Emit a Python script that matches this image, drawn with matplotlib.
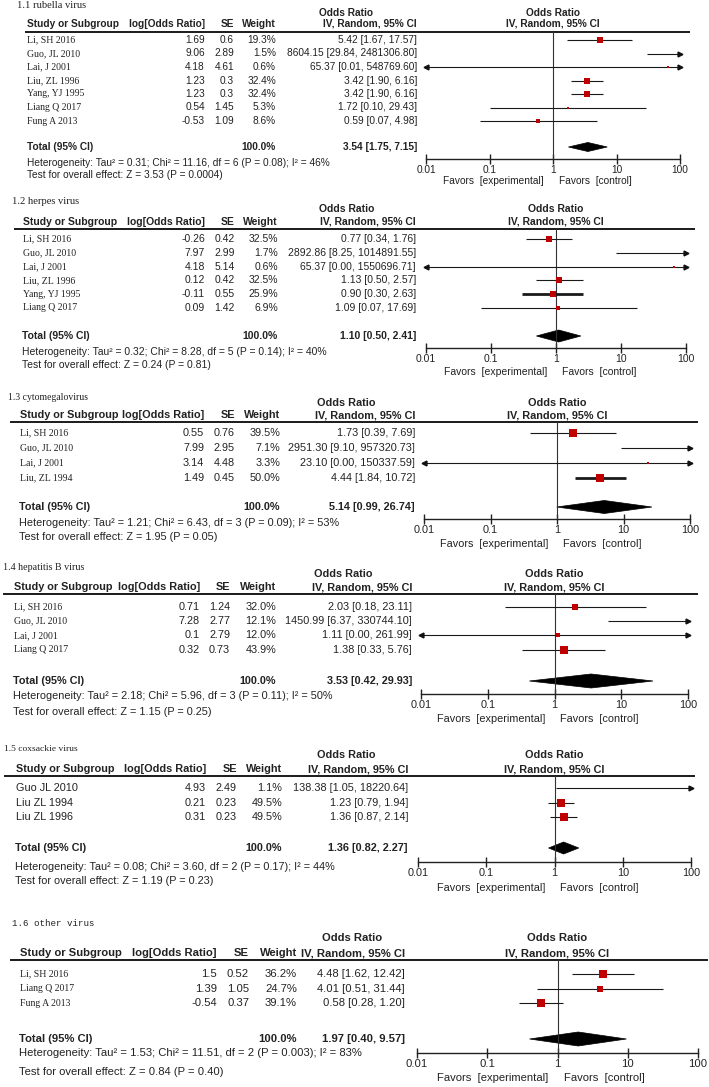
import numpy as np
import matplotlib
matplotlib.use('Agg')
import matplotlib.pyplot as plt
from matplotlib.patches import Polygon
from matplotlib.ticker import NullLocator

W, H = 709, 1087

# ---------------- data ----------------
titles = ["1.1 rubella virus", "1.2 herpes virus", "1.3 cytomegalovirus",
          "1.4 hepatitis B virus", "1.5 coxsackie virus", "1.6 other virus"]

studies_1 = ["Li, SH 2016", "Guo, JL 2010", "Lai, J 2001", "Liu, ZL 1996",
             "Yang, YJ 1995", "Liang Q 2017", "Fung A 2013"]
logor_1 = [1.69, 9.06, 4.18, 1.23, 1.23, 0.54, -0.53]
se_1 = [0.6, 2.89, 4.61, 0.3, 0.3, 1.45, 1.09]
weight_1 = [19.3, 1.5, 0.6, 32.4, 32.4, 5.3, 8.6]
or_1 = [5.42, 8604.15, 65.37, 3.42, 3.42, 1.72, 0.59]
lo_1 = [1.67, 29.84, 0.01, 1.90, 1.90, 0.10, 0.07]
hi_1 = [17.57, 2481306.80, 548769.60, 6.16, 6.16, 29.43, 4.98]
total_1 = (3.54, 1.75, 7.15)
het_1 = "Heterogeneity: Tau\u00b2 = 0.31; Chi\u00b2 = 11.16, df = 6 (P = 0.08); I\u00b2 = 46%"
test_1 = "Test for overall effect: Z = 3.53 (P = 0.0004)"

studies_2 = ["Li, SH 2016", "Guo, JL 2010", "Lai, J 2001", "Liu, ZL 1996",
             "Yang, YJ 1995", "Liang Q 2017"]
logor_2 = [-0.26, 7.97, 4.18, 0.12, -0.11, 0.09]
se_2 = [0.42, 2.99, 5.14, 0.42, 0.55, 1.42]
weight_2 = [32.5, 1.7, 0.6, 32.5, 25.9, 6.9]
or_2 = [0.77, 2892.86, 65.37, 1.13, 0.90, 1.09]
lo_2 = [0.34, 8.25, 0.00, 0.50, 0.30, 0.07]
hi_2 = [1.76, 1014891.55, 1550696.71, 2.57, 2.63, 17.69]
total_2 = (1.10, 0.50, 2.41)
het_2 = "Heterogeneity: Tau\u00b2 = 0.32; Chi\u00b2 = 8.28, df = 5 (P = 0.14); I\u00b2 = 40%"
test_2 = "Test for overall effect: Z = 0.24 (P = 0.81)"

studies_3 = ["Li, SH 2016", "Guo, JL 2010", "Lai, J 2001", "Liu, ZL 1994"]
logor_3 = [0.55, 7.99, 3.14, 1.49]
se_3 = [0.76, 2.95, 4.48, 0.45]
weight_3 = [39.5, 7.1, 3.3, 50.0]
or_3 = [1.73, 2951.30, 23.10, 4.44]
lo_3 = [0.39, 9.10, 0.00, 1.84]
hi_3 = [7.69, 957320.73, 150337.59, 10.72]
total_3 = (5.14, 0.99, 26.74)
het_3 = "Heterogeneity: Tau\u00b2 = 1.21; Chi\u00b2 = 6.43, df = 3 (P = 0.09); I\u00b2 = 53%"
test_3 = "Test for overall effect: Z = 1.95 (P = 0.05)"

studies_4 = ["Li, SH 2016", "Guo, JL 2010", "Lai, J 2001", "Liang Q 2017"]
logor_4 = [0.71, 7.28, 0.1, 0.32]
se_4 = [1.24, 2.77, 2.79, 0.73]
weight_4 = [32.0, 12.1, 12.0, 43.9]
or_4 = [2.03, 1450.99, 1.11, 1.38]
lo_4 = [0.18, 6.37, 0.00, 0.33]
hi_4 = [23.11, 330744.10, 261.99, 5.76]
total_4 = (3.53, 0.42, 29.93)
het_4 = "Heterogeneity: Tau\u00b2 = 2.18; Chi\u00b2 = 5.96, df = 3 (P = 0.11); I\u00b2 = 50%"
test_4 = "Test for overall effect: Z = 1.15 (P = 0.25)"

studies_5 = ["Guo JL 2010", "Liu ZL 1994", "Liu ZL 1996"]
logor_5 = [4.93, 0.21, 0.31]
se_5 = [2.49, 0.23, 0.23]
weight_5 = [1.1, 49.5, 49.5]
or_5 = [138.38, 1.23, 1.36]
lo_5 = [1.05, 0.79, 0.87]
hi_5 = [18220.64, 1.94, 2.14]
total_5 = (1.36, 0.82, 2.27)
het_5 = "Heterogeneity: Tau\u00b2 = 0.08; Chi\u00b2 = 3.60, df = 2 (P = 0.17); I\u00b2 = 44%"
test_5 = "Test for overall effect: Z = 1.19 (P = 0.23)"

studies_6 = ["Li, SH 2016", "Liang Q 2017", "Fung A 2013"]
logor_6 = [1.5, 1.39, -0.54]
se_6 = [0.52, 1.05, 0.37]
weight_6 = [36.2, 24.7, 39.1]
or_6 = [4.48, 4.01, 0.58]
lo_6 = [1.62, 0.51, 0.28]
hi_6 = [12.42, 31.44, 1.20]
total_6 = (1.97, 0.40, 9.57)
het_6 = "Heterogeneity: Tau\u00b2 = 1.53; Chi\u00b2 = 11.51, df = 2 (P = 0.003); I\u00b2 = 83%"
test_6 = "Test for overall effect: Z = 0.84 (P = 0.40)"

tick_vals = [0.01, 0.1, 1, 10, 100]
tick_labels = ["0.01", "0.1", "1", "10", "100"]

panels = [
    (studies_1, logor_1, se_1, weight_1, or_1, lo_1, hi_1, total_1, het_1, test_1),
    (studies_2, logor_2, se_2, weight_2, or_2, lo_2, hi_2, total_2, het_2, test_2),
    (studies_3, logor_3, se_3, weight_3, or_3, lo_3, hi_3, total_3, het_3, test_3),
    (studies_4, logor_4, se_4, weight_4, or_4, lo_4, hi_4, total_4, het_4, test_4),
    (studies_5, logor_5, se_5, weight_5, or_5, lo_5, hi_5, total_5, het_5, test_5),
    (studies_6, logor_6, se_6, weight_6, or_6, lo_6, hi_6, total_6, het_6, test_6),
]

# ---------------- layout (pixels) ----------------
# title xy, odds-ratio header y, header y, line (y, x0, x1), first row y, row step,
# total y, het y, test y, axis (y, x0, x1), favors y, text x, columns, font size
layout = [
    dict(title=(17, 6), orh=13, hdr=24, line=(32, 25, 690), row0=40, dy=13.5, total=147,
         het=163, test=175, axis=(159, 426, 680), fav=181, tx=27,
         cols=(27, 205, 234, 276, 417), orc=346, fs=7.3, dh=4.5, thick=[], sans_names=False,
         tfont='Liberation Serif', tsize=7.6),
    dict(title=(12, 202), orh=209, hdr=222, line=(229, 14, 695), row0=239, dy=13.8, total=336,
         het=352, test=365, axis=(348, 426, 686), fav=372, tx=22,
         cols=(23, 205, 235, 278, 416), orc=347, fs=7.5, dh=6, thick=[4], sans_names=False,
         tfont='Liberation Serif', tsize=7.6),
    dict(title=(8, 397), orh=403, hdr=415.5, line=(422, 10, 698), row0=433, dy=15, total=507,
         het=523, test=537, axis=(519, 424, 690), fav=544, tx=19,
         cols=(20, 204, 235, 280, 415), orc=346, fs=7.8, dh=6.5, thick=[3], sans_names=False,
         tfont='Liberation Serif', tsize=7.0),
    dict(title=(3, 567), orh=574, hdr=587.5, line=(594, 3, 698), row0=607, dy=14.2, total=681,
         het=696, test=712, axis=(694, 421, 688), fav=719, tx=13,
         cols=(14, 200, 230, 276, 412), orc=343, fs=7.8, dh=7, thick=[], sans_names=False,
         tfont='Liberation Serif', tsize=7.2),
    dict(title=(4, 749), orh=755, hdr=769.5, line=(776, 4, 695), row0=788, dy=14.5, total=848,
         het=867, test=881, axis=(862, 418, 691), fav=888, tx=15,
         cols=(16, 206, 237, 282, 408), orc=346, fs=7.8, dh=6, thick=[], sans_names=True,
         tfont='Liberation Serif', tsize=6.8),
    dict(title=(12, 923), orh=938, hdr=953.5, line=(960, 10, 708), row0=974, dy=14.5, total=1039,
         het=1053, test=1072, axis=(1053, 417, 698), fav=1078, tx=19,
         cols=(20, 217, 249, 297, 405), orc=352, fs=8.1, dh=7, thick=[], sans_names=False,
         tfont='Liberation Mono', tsize=6.6),
]

TXT = '#222222'
SANS = 'Liberation Sans'
SERIF = 'Liberation Serif'
plt.rcParams['font.family'] = SANS

fig = plt.figure(figsize=(W / 100, H / 100), dpi=100)
fig.patch.set_facecolor('white')
bg = fig.add_axes([0, 0, 1, 1])
bg.set_xlim(0, W)
bg.set_ylim(H, 0)
bg.axis('off')

for k, (data, L) in enumerate(zip(panels, layout)):
    studies, logor, se, weight, orv, lo, hi, total, het, test = data
    fs = L['fs']
    xs, xl, xse, xw, xci = L['cols']
    ly, lx0, lx1 = L['line']
    ay, ax0, ax1 = L['axis']
    xc = (ax0 + ax1) / 2

    bg.text(L['title'][0], L['title'][1], titles[k], family=L['tfont'],
            fontsize=L['tsize'], color=TXT, va='center', ha='left')

    # headers
    bg.text(L['orc'], L['orh'], 'Odds Ratio', ha='center', va='center', fontsize=fs,
            weight='bold', color=TXT)
    bg.text(xc, L['orh'], 'Odds Ratio', ha='center', va='center', fontsize=fs,
            weight='bold', color=TXT)
    y = L['hdr']
    bg.text(xs, y, 'Study or Subgroup', ha='left', va='center', fontsize=fs, weight='bold', color=TXT)
    bg.text(xl, y, 'log[Odds Ratio]', ha='right', va='center', fontsize=fs, weight='bold', color=TXT)
    bg.text(xse, y, 'SE', ha='right', va='center', fontsize=fs, weight='bold', color=TXT)
    bg.text(xw, y, 'Weight', ha='right', va='center', fontsize=fs, weight='bold', color=TXT)
    bg.text(xci, y, 'IV, Random, 95% CI', ha='right', va='center', fontsize=fs, weight='bold', color=TXT)
    bg.text(xc, y, 'IV, Random, 95% CI', ha='center', va='center', fontsize=fs, weight='bold', color=TXT)
    bg.plot([lx0, lx1], [ly, ly], color='#1a1a1a', lw=1.4, solid_capstyle='butt')

    # forest axes
    ax = fig.add_axes([ax0 / W, 1 - ay / H, (ax1 - ax0) / W, (ay - ly) / H])
    ax.set_xscale('log')
    ax.set_xlim(0.01, 100)
    ax.set_ylim(ay, ly)
    ax.patch.set_alpha(0)
    for s in ['top', 'right', 'left']:
        ax.spines[s].set_visible(False)
    ax.spines['bottom'].set_linewidth(1.0)
    ax.spines['bottom'].set_color('#222222')
    ax.set_xticks(tick_vals)
    ax.set_xticklabels(tick_labels, fontsize=fs, color=TXT)
    ax.xaxis.set_minor_locator(NullLocator())
    ax.tick_params(axis='x', direction='inout', length=7, width=1.0, pad=1, colors='#222222')
    ax.tick_params(axis='x', labelcolor=TXT)
    ax.set_yticks([])
    ax.axvline(1, color='#333333', lw=0.8)

    for i in range(len(studies)):
        y = L['row0'] + i * L['dy']
        if L['sans_names']:
            bg.text(xs, y, studies[i], family=SANS, fontsize=fs, color=TXT, va='center', ha='left')
        else:
            bg.text(xs, y, studies[i], family=SERIF, fontsize=7, color=TXT, va='center', ha='left')
        bg.text(xl, y, f"{logor[i]:g}", ha='right', va='center', fontsize=fs, color=TXT)
        bg.text(xse, y, f"{se[i]:g}", ha='right', va='center', fontsize=fs, color=TXT)
        bg.text(xw, y, f"{weight[i]:.1f}%", ha='right', va='center', fontsize=fs, color=TXT)
        bg.text(xci, y, f"{orv[i]:.2f} [{lo[i]:.2f}, {hi[i]:.2f}]", ha='right', va='center',
                fontsize=fs, color=TXT)

        a = max(lo[i], 0.01)
        b = min(hi[i], 100)
        lw = 2.0 if i in L['thick'] else 0.8
        ax.plot([a, b], [y, y], color='#1a1a1a', lw=lw, solid_capstyle='butt', clip_on=False)
        if hi[i] > 100:
            ax.plot([100], [y], marker='>', ms=3.5, color='#111111', clip_on=False)
        if lo[i] <= 0.01:
            ax.plot([0.01], [y], marker='<', ms=3.5, color='#111111', clip_on=False)
        if 0.01 < orv[i] < 100:
            side = max(8.5 * np.sqrt(weight[i] / 50.0), 1.8) * 0.72
            ax.scatter([orv[i]], [y], marker='s', s=side ** 2, color='#c00000',
                       linewidths=0, zorder=3, clip_on=False)

    # total row
    t, tl, th = total
    yt = L['total']
    bg.text(L['tx'], yt, 'Total (95% CI)', ha='left', va='center', fontsize=fs, weight='bold', color=TXT)
    bg.text(xw, yt, '100.0%', ha='right', va='center', fontsize=fs, weight='bold', color=TXT)
    bg.text(xci, yt, f"{t:.2f} [{tl:.2f}, {th:.2f}]", ha='right', va='center', fontsize=fs,
            weight='bold', color=TXT)
    dh = L['dh']
    ax.add_patch(Polygon([[tl, yt], [t, yt - dh], [th, yt], [t, yt + dh]], closed=True,
                         facecolor='black', edgecolor='black', lw=0.5, clip_on=False))

    bg.text(L['tx'], L['het'], het, ha='left', va='center', fontsize=fs, color=TXT)
    bg.text(L['tx'], L['test'], test, ha='left', va='center', fontsize=fs, color=TXT)

    # favors labels
    bg.text(xc - 9, L['fav'], 'Favors  [experimental]', ha='right', va='center', fontsize=fs, color=TXT)
    bg.text(xc + 6, L['fav'], 'Favors  [control]', ha='left', va='center', fontsize=fs, color=TXT)

fig.savefig('out.png', dpi=100, facecolor='white')
